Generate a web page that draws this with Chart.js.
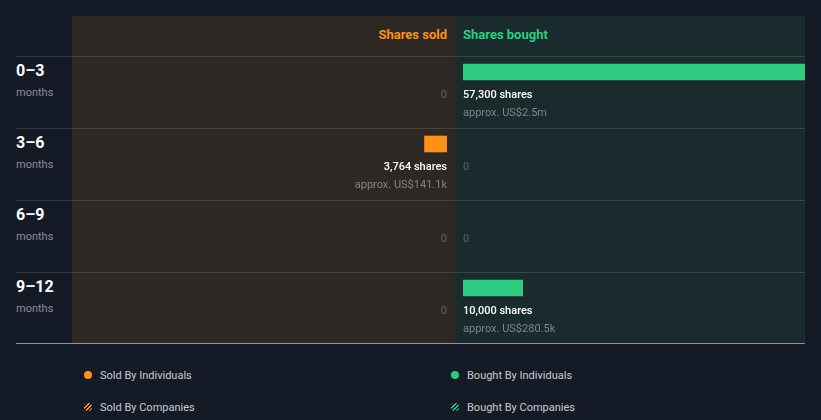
<!DOCTYPE html>
<html>
<head>
<meta charset="utf-8">
<script src="https://cdn.jsdelivr.net/npm/chart.js@4.4.1/dist/chart.umd.min.js"></script>
<style>
  html, body { margin: 0; padding: 0; background: #151b26; }
  #wrap { position: relative; width: 821px; height: 420px; background: #151b26; font-family: Roboto, "Open Sans", sans-serif; overflow: hidden; }
  .panel { position: absolute; top: 16px; height: 327px; }
  #soldPanel { left: 72px; width: 383px; background: #2d2823; }
  #boughtPanel { left: 455px; width: 350px; background: #1a2b2e; }
  .hline { position: absolute; left: 16px; width: 789px; height: 1px; background: rgba(255,255,255,0.12); }
  .bline { position: absolute; left: 16px; width: 789px; height: 1px; top: 343px; background: #8e9196; }
  .head { position: absolute; top: 27px; font-size: 13px; font-weight: 700; line-height: 16px; }
  .rowlab { position: absolute; left: 16px; color: #ffffff; font-size: 16px; font-weight: 700; line-height: 18px; }
  .rowsub { position: absolute; left: 16px; color: #8a8f98; font-size: 11px; line-height: 13px; }
  canvas { position: absolute; }
  .leg { position: absolute; color: #c9ccd1; font-size: 11px; line-height: 13px; }
  .dot { position: absolute; width: 8px; height: 8px; border-radius: 50%; }
  .hatch { position: absolute; width: 8px; height: 8px; border-radius: 50%; }
</style>
</head>
<body>
<div id="wrap">
  <div class="panel" id="soldPanel"></div>
  <div class="panel" id="boughtPanel"></div>
  <div id="rows"></div>
  <div class="bline"></div>
  <div class="head" id="soldHead" style="right:374px;color:#f7931e;text-align:right;"></div>
  <div class="head" id="boughtHead" style="left:463px;color:#2ecc80;"></div>
  <canvas id="soldChart" width="342" height="308" style="left:105px;top:36px;"></canvas>
  <canvas id="boughtChart" width="342" height="308" style="left:463px;top:36px;"></canvas>
  <div id="legend"></div>
</div>
<script>
// ---- data ----
const periods = ['0–3', '3–6', '6–9', '9–12'];
const periodUnit = 'months';
const sharesSold = [0, 3764, 0, 0];
const sharesBought = [57300, 0, 0, 10000];
const valueSold = ['', 'US$141.1k', '', ''];
const valueBought = ['US$2.5m', '', '', 'US$280.5k'];
const headers = ['Shares sold', 'Shares bought'];
const legendLabels = ['Sold By Individuals', 'Bought By Individuals', 'Sold By Companies', 'Bought By Companies'];

const ORANGE = '#fd9218';
const GREEN = '#2dca80';

// ---- static layout ----
document.getElementById('soldHead').textContent = headers[0];
document.getElementById('boughtHead').textContent = headers[1];

const rows = document.getElementById('rows');
periods.forEach((p, i) => {
  const top = 56 + i * 72;
  const l = document.createElement('div'); l.className = 'hline'; l.style.top = top + 'px'; rows.appendChild(l);
  const a = document.createElement('div'); a.className = 'rowlab'; a.style.top = (top + 6) + 'px'; a.textContent = p; rows.appendChild(a);
  const b = document.createElement('div'); b.className = 'rowsub'; b.style.top = (top + 30) + 'px'; b.textContent = periodUnit; rows.appendChild(b);
});

const legend = document.getElementById('legend');
const legPos = [[84, 371, ORANGE, false], [451, 371, GREEN, false], [84, 403, ORANGE, true], [451, 403, GREEN, true]];
legendLabels.forEach((t, i) => {
  const [x, y, c, hatched] = legPos[i];
  const d = document.createElement('div');
  d.className = hatched ? 'hatch' : 'dot';
  d.style.left = x + 'px'; d.style.top = y + 'px';
  d.style.background = hatched
    ? `repeating-linear-gradient(135deg, ${c} 0px, ${c} 1.5px, #151b26 1.5px, #151b26 3px)`
    : c;
  legend.appendChild(d);
  const s = document.createElement('div'); s.className = 'leg';
  s.style.left = (x + 16) + 'px'; s.style.top = (y - 2) + 'px'; s.textContent = t;
  legend.appendChild(s);
});

// ---- charts ----
const maxShares = Math.max(...sharesSold, ...sharesBought);

function labelPlugin(values, amounts, alignRight) {
  return {
    id: 'barLabels',
    afterDatasetsDraw(chart) {
      const ctx = chart.ctx;
      const meta = chart.getDatasetMeta(0);
      ctx.save();
      ctx.textBaseline = 'middle';
      ctx.textAlign = alignRight ? 'right' : 'left';
      meta.data.forEach((bar, i) => {
        const x = bar.base;
        const v = values[i];
        const y1 = bar.y + 23;
        const y2 = bar.y + 41.5;
        if (v === 0) {
          ctx.fillStyle = '#5f6466';
          ctx.font = '400 11px Roboto, sans-serif';
          ctx.fillText('0', x, y1);
        } else {
          ctx.fillStyle = '#ffffff';
          ctx.font = '500 11px Roboto, sans-serif';
          ctx.fillText(v.toLocaleString('en-US') + ' shares', x, y1);
          ctx.fillStyle = '#7e8689';
          ctx.font = '400 11px Roboto, sans-serif';
          ctx.fillText('approx. ' + amounts[i], x, y2);
        }
      });
      ctx.restore();
    }
  };
}

function makeChart(id, values, amounts, color, reverse) {
  return new Chart(document.getElementById(id), {
    type: 'bar',
    data: {
      labels: periods,
      datasets: [{
        data: values,
        backgroundColor: (c) => (c.raw === 0 ? 'rgba(0,0,0,0)' : color),
        barThickness: 16,
        borderWidth: 0
      }]
    },
    options: {
      indexAxis: 'y',
      responsive: false,
      animation: false,
      layout: { padding: { top: 0, bottom: 20, left: 0, right: 0 } },
      scales: {
        x: { display: false, min: 0, max: maxShares, reverse: reverse },
        y: { display: false }
      },
      plugins: { legend: { display: false }, tooltip: { enabled: false } }
    },
    plugins: [labelPlugin(values, amounts, reverse)]
  });
}

makeChart('soldChart', sharesSold, valueSold, ORANGE, true);
makeChart('boughtChart', sharesBought, valueBought, GREEN, false);
</script>
</body>
</html>
